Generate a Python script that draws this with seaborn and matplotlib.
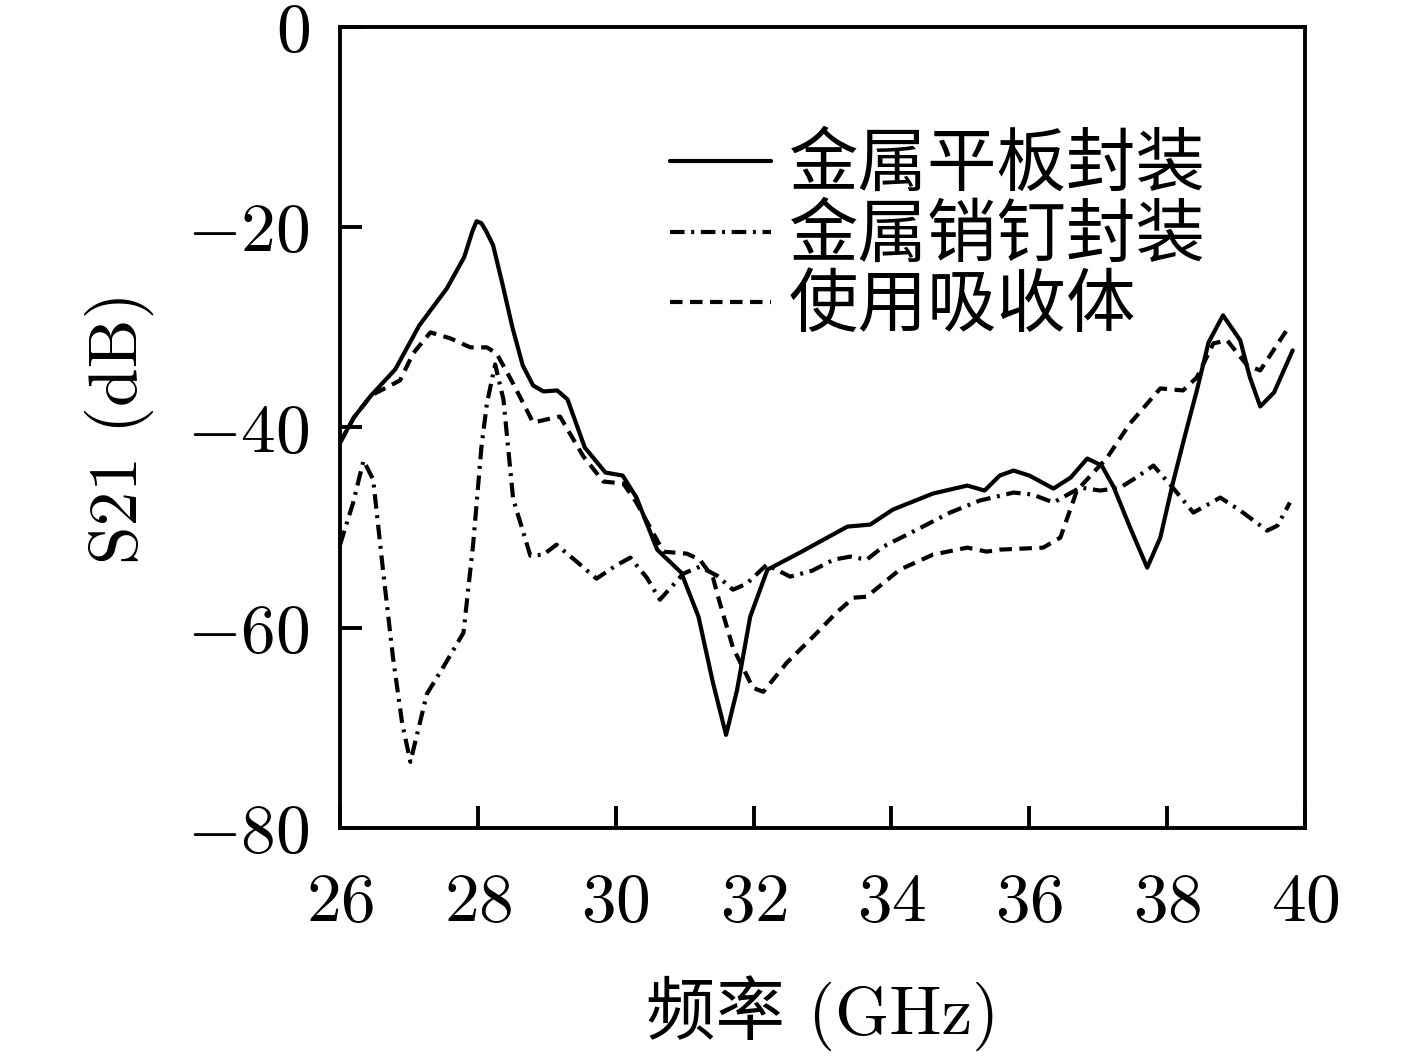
import pandas as pd
import matplotlib
matplotlib.use("Agg")
import matplotlib.pyplot as plt
import seaborn as sns

# S21 curves
freq_plate = [26.0, 26.2, 26.45, 26.8, 27.15, 27.55, 27.8, 27.92, 27.98, 28.05, 28.12, 28.22, 28.35, 28.5, 28.65,
              28.8, 28.95, 29.15, 29.3, 29.55, 29.85, 30.1, 30.3, 30.6, 30.95, 31.2, 31.41, 31.6, 31.76, 31.95,
              32.2, 32.67, 33.36, 33.69, 34.02, 34.6, 35.1, 35.35, 35.57, 35.77, 36.0, 36.35, 36.6, 36.84,
              37.05, 37.22, 37.45, 37.71, 37.9, 38.08, 38.25, 38.43, 38.6, 38.81, 39.06, 39.2, 39.35, 39.55,
              39.82]
s21_plate = [-41.5, -39.0, -36.8, -34.2, -29.8, -26.1, -23.0, -20.4, -19.4, -19.6, -20.4, -21.8, -25.5, -30.0, -33.8,
             -35.8, -36.4, -36.3, -37.2, -42.0, -44.5, -44.8, -47.0, -52.2, -54.5, -58.9, -65.5, -70.7, -66.2,
             -58.9, -54.2, -52.5, -49.9, -49.7, -48.2, -46.6, -45.8, -46.3, -44.8, -44.3, -44.8, -46.1, -45.0,
             -43.1, -43.8, -45.9, -49.8, -54.0, -51.0, -45.6, -41.0, -36.3, -31.5, -28.8, -31.3, -35.0, -37.9,
             -36.5, -32.3]

freq_pin = [26.0, 26.19, 26.34, 26.48, 26.63, 26.77, 26.9, 27.02, 27.14, 27.26, 27.5, 27.79, 27.93, 28.05,
            28.13, 28.25, 28.37, 28.51, 28.76, 28.95, 29.14, 29.45, 29.72, 30.0, 30.21, 30.45, 30.64,
            30.98, 31.22, 31.47, 31.7, 31.9, 32.19, 32.53, 32.85, 33.16, 33.4, 33.64, 33.88, 34.37,
            34.85, 35.28, 35.77, 36.05, 36.35, 36.74, 37.03, 37.32, 37.55, 37.8, 38.08, 38.38, 38.77,
            39.06, 39.45, 39.6, 39.78]
s21_pin = [-51.7, -47.5, -43.3, -45.2, -54.7, -63.1, -69.5, -73.4, -70.0, -66.6, -63.9, -60.5, -51.7, -42.0,
           -37.6, -33.7, -37.2, -47.1, -52.8, -52.7, -51.7, -53.5, -55.1, -53.8, -53.0, -55.0, -57.2,
           -54.6, -53.9, -54.8, -56.2, -55.6, -53.7, -54.9, -54.3, -53.2, -52.9, -53.2, -51.9, -50.2,
           -48.5, -47.3, -46.5, -46.7, -47.5, -46.0, -46.3, -46.0, -45.0, -43.8, -46.0, -48.5, -47.0,
           -48.3, -50.3, -49.8, -47.5]

freq_abs = [26.0, 26.2, 26.45, 26.87, 27.06, 27.31, 27.6, 27.89, 28.13, 28.27, 28.51, 28.8, 29.19, 29.53,
            29.82, 30.11, 30.3, 30.69, 31.03, 31.22, 31.41, 31.5, 31.7, 31.99, 32.14, 32.48, 32.92,
            33.2, 33.45, 33.64, 34.12, 34.6, 35.1, 35.38, 35.57, 36.2, 36.45, 36.69, 37.13, 37.46,
            37.9, 38.23, 38.43, 38.67, 38.87, 39.16, 39.35, 39.54, 39.78]
s21_abs = [-41.5, -39.0, -36.8, -35.3, -32.6, -30.5, -31.1, -32.0, -32.0, -32.6, -35.6, -39.5, -38.9, -42.9,
           -45.4, -45.6, -47.5, -52.4, -52.6, -53.2, -55.0, -57.3, -62.0, -66.0, -66.4, -63.5, -60.5,
           -58.5, -57.0, -56.9, -54.2, -52.7, -52.0, -52.4, -52.2, -52.0, -51.0, -46.3, -43.0, -39.6,
           -36.1, -36.3, -35.0, -31.6, -31.3, -33.8, -34.3, -32.3, -29.8]

labels = ["金属平板封装", "金属销钉封装", "使用吸收体"]
x_ticks = [26, 28, 30, 32, 34, 36, 38, 40]
y_ticks = [0, -20, -40, -60, -80]

sns.set_style("ticks")
fonts = ["cmr10", "Noto Sans CJK SC"]
plt.rcParams["font.family"] = fonts
plt.rcParams["mathtext.fontset"] = "cm"
plt.rcParams["axes.formatter.use_mathtext"] = True
for key in ["text.color", "axes.labelcolor", "xtick.color", "ytick.color", "axes.edgecolor"]:
    plt.rcParams[key] = "black"

fig = plt.figure(figsize=(14.17, 10.58), dpi=100)
ax = fig.add_axes([0.24, 0.2174, 0.681, 0.7571])

lw = 3.0
sns.lineplot(x=freq_plate, y=s21_plate, ax=ax, color="black", lw=lw, label=labels[0], sort=False)
sns.lineplot(x=freq_pin, y=s21_pin, ax=ax, color="black", lw=lw, label=labels[1], sort=False,
             linestyle=(0, (3.5, 1.6, 0.7, 1.6)))
sns.lineplot(x=freq_abs, y=s21_abs, ax=ax, color="black", lw=lw, label=labels[2], sort=False,
             linestyle=(0, (3.0, 1.8)))

ax.set_xlim(26, 40)
ax.set_ylim(-80, 0)
ax.set_xticks(x_ticks)
ax.set_yticks(y_ticks)
ax.tick_params(direction="in", length=16, width=2.8, labelsize=50)
ax.tick_params(axis="x", pad=32)
ax.tick_params(axis="y", pad=22)
for sp in ax.spines.values():
    sp.set_linewidth(2.8)

ax.set_xlabel("频率 (GHz)", fontsize=50, family=fonts, labelpad=30)
ax.set_ylabel("S21 (dB)", fontsize=50, family=fonts, labelpad=24)

leg = ax.legend(loc="upper left", bbox_to_anchor=(0.277, 0.946), frameon=False,
                prop={"family": fonts, "size": 50}, handlelength=1.45, handletextpad=0.26,
                labelspacing=0.08)

fig.savefig("out.png", dpi=100, facecolor="white")
